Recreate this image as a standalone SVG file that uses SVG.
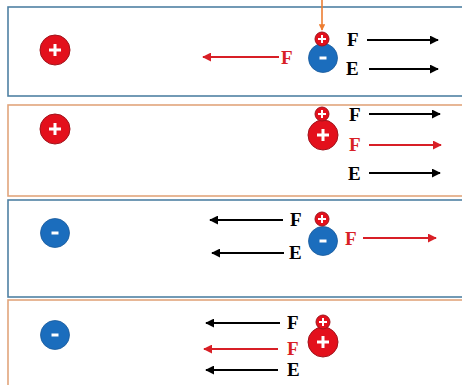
<svg xmlns="http://www.w3.org/2000/svg" width="462" height="385" viewBox="0 0 462 385">
<defs>
<style>
.pb{fill:#fff;stroke:#4f81a3;stroke-width:1.6}
.po{fill:#fff;stroke:#e2a57c;stroke-width:1.6}
.red{fill:#e3101c;stroke:#a0141c;stroke-width:1}
.blue{fill:#1b6dbd;stroke:#1a5a9a;stroke-width:0.8}
.sym{stroke:#fff;stroke-width:3;stroke-linecap:butt}
.syms{stroke:#fff;stroke-width:2}
.ak{stroke:#000;stroke-width:2;fill:none}
.ar{stroke:#d81f26;stroke-width:2;fill:none}
.t{font-family:"Liberation Serif",serif;font-weight:bold;font-size:19px}
.tk{fill:#000}
.tr{fill:#d81f26}
</style>
<marker id="mk" viewBox="0 0 10 10" refX="9" refY="5" markerWidth="4.5" markerHeight="4.5" orient="auto"><path d="M0,0 L10,5 L0,10 z" fill="#000"/></marker>
<marker id="mr" viewBox="0 0 10 10" refX="9" refY="5" markerWidth="4.5" markerHeight="4.5" orient="auto"><path d="M0,0 L10,5 L0,10 z" fill="#d81f26"/></marker>
<marker id="mo" viewBox="0 0 10 10" refX="9" refY="5" markerWidth="4" markerHeight="4" orient="auto"><path d="M0,0 L10,5 L0,10 z" fill="#ed7d31"/></marker>
<g id="pos"><circle r="15" class="red"/><path d="M-6,0 H6 M0,-6 V6" class="sym"/></g>
<g id="neg"><circle r="14.5" class="blue"/><path d="M-3.5,0 H3.5" class="sym"/></g>
<g id="spos"><circle r="7" class="red"/><path d="M-4,0 H4 M0,-4 V4" class="syms"/></g>
</defs>

<g id="panel1">
<rect x="8" y="7" width="470" height="89" class="pb"/>
<g id="p1-source"><use href="#pos" x="55" y="50"/></g>
<g id="p1-test"><use href="#neg" x="323" y="58"/><use href="#spos" x="322" y="39"/></g>
<text class="t tr" x="281" y="64">F</text>
<text class="t tk" x="347" y="46">F</text>
<text class="t tk" x="346" y="75">E</text>
</g>

<g id="panel2">
<rect x="8" y="105" width="470" height="91" class="po"/>
<g id="p2-source"><use href="#pos" x="55" y="129"/></g>
<g id="p2-test"><use href="#pos" x="323" y="135"/><use href="#spos" x="322" y="114"/></g>
<text class="t tk" x="349" y="121">F</text>
<text class="t tr" x="349" y="151">F</text>
<text class="t tk" x="348" y="180">E</text>
</g>

<g id="panel3">
<rect x="8" y="200" width="470" height="97" class="pb"/>
<g id="p3-source"><use href="#neg" x="55" y="233"/></g>
<g id="p3-test"><use href="#neg" x="323" y="241"/><use href="#spos" x="322" y="219"/></g>
<text class="t tk" x="290" y="226">F</text>
<text class="t tk" x="289" y="259">E</text>
<text class="t tr" x="345" y="245">F</text>
</g>

<g id="panel4">
<rect x="8" y="300" width="470" height="95" class="po"/>
<g id="p4-source"><use href="#neg" x="55" y="335"/></g>
<g id="p4-test"><use href="#pos" x="323" y="342"/><use href="#spos" x="323" y="322"/></g>
<text class="t tk" x="287" y="329">F</text>
<text class="t tr" x="287" y="355">F</text>
<text class="t tk" x="287" y="376">E</text>
</g>

<g id="connectors">
<line x1="322" y1="0" x2="322" y2="30" stroke="#ed7d31" stroke-width="1.6" marker-end="url(#mo)"/>
<line x1="279" y1="57" x2="203" y2="57" class="ar" marker-end="url(#mr)"/>
<line x1="367" y1="40" x2="438" y2="40" class="ak" marker-end="url(#mk)"/>
<line x1="369" y1="69" x2="438" y2="69" class="ak" marker-end="url(#mk)"/>
<line x1="369" y1="114" x2="440" y2="114" class="ak" marker-end="url(#mk)"/>
<line x1="369" y1="145" x2="441" y2="145" class="ar" marker-end="url(#mr)"/>
<line x1="369" y1="173" x2="440" y2="173" class="ak" marker-end="url(#mk)"/>
<line x1="283" y1="220" x2="210" y2="220" class="ak" marker-end="url(#mk)"/>
<line x1="284" y1="253" x2="212" y2="253" class="ak" marker-end="url(#mk)"/>
<line x1="363" y1="238" x2="436" y2="238" class="ar" marker-end="url(#mr)"/>
<line x1="280" y1="323" x2="206" y2="323" class="ak" marker-end="url(#mk)"/>
<line x1="278" y1="349" x2="204" y2="349" class="ar" marker-end="url(#mr)"/>
<line x1="278" y1="370" x2="206" y2="370" class="ak" marker-end="url(#mk)"/>
</g>
</svg>
